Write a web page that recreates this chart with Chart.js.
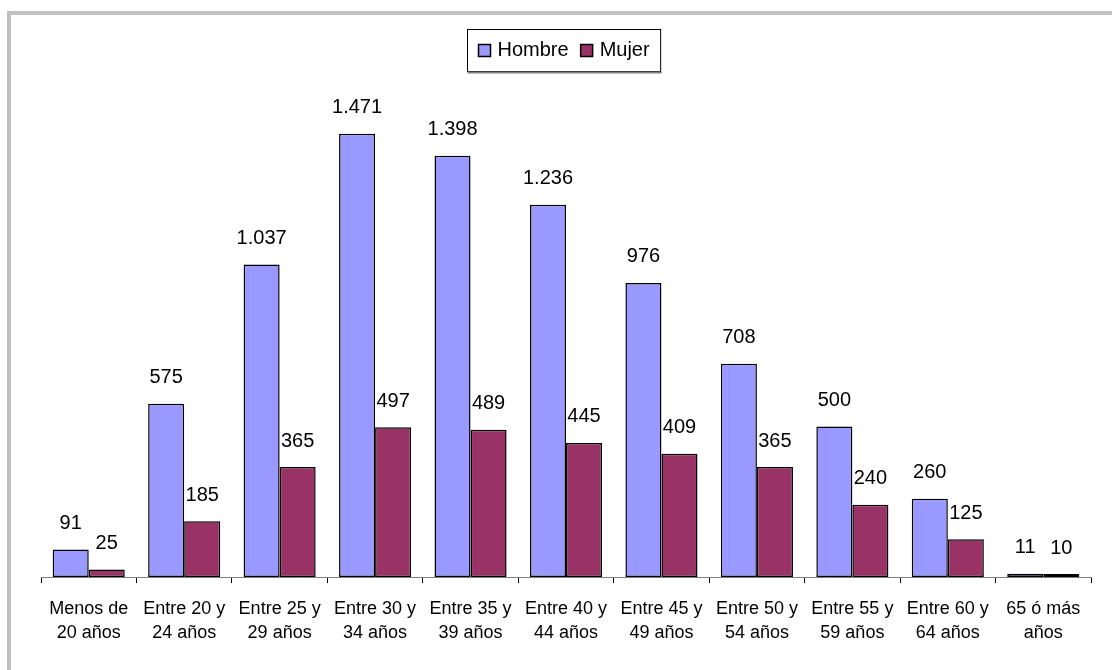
<!DOCTYPE html>
<html><head><meta charset="utf-8">
<script src="https://cdn.jsdelivr.net/npm/chart.js@4/dist/chart.umd.min.js"></script>
<style>
html,body{margin:0;padding:0;background:#fff;overflow:hidden}
#wrap{position:relative;width:1112px;height:670px}
#frame{position:absolute;left:7px;top:11px;width:1200px;height:800px;border:4px solid #c0c0c0;box-sizing:border-box}
canvas{position:absolute;left:0;top:0}
</style></head><body>
<div id="wrap"><div id="frame"></div><canvas id="c" width="1112" height="670"></canvas></div>
<script>
const categories = [
  ['Menos de','20 años'],
  ['Entre 20 y','24 años'],
  ['Entre 25 y','29 años'],
  ['Entre 30 y','34 años'],
  ['Entre 35 y','39 años'],
  ['Entre 40 y','44 años'],
  ['Entre 45 y','49 años'],
  ['Entre 50 y','54 años'],
  ['Entre 55 y','59 años'],
  ['Entre 60 y','64 años'],
  ['65 ó más','años']
];
const hombre = [91, 575, 1037, 1471, 1398, 1236, 976, 708, 500, 260, 11];
const mujer  = [25, 185, 365, 497, 489, 445, 409, 365, 240, 125, 10];
const seriesNames = ['Hombre', 'Mujer'];
const seriesColors = ['#9999FF', '#993366'];

const FONT = '"Liberation Sans", Arial, sans-serif';

function fmt(v){ return String(v).replace(/\B(?=(\d{3})+(?!\d))/g, '.'); }

const labelPlugin = {
  id: 'valueLabels',
  afterDatasetsDraw(chart){
    const ctx = chart.ctx;
    ctx.save();
    ctx.font = '20px ' + FONT;
    ctx.fillStyle = '#000';
    ctx.textAlign = 'center';
    ctx.textBaseline = 'middle';
    chart.data.datasets.forEach((ds, di) => {
      const meta = chart.getDatasetMeta(di);
      meta.data.forEach((el, i) => {
        ctx.fillText(fmt(ds.data[i]), el.x, el.y - 26);
      });
    });
    ctx.restore();
  }
};

const legendPlugin = {
  id: 'boxLegend',
  afterDraw(chart){
    const ctx = chart.ctx;
    ctx.save();
    ctx.font = '20px ' + FONT;
    const box = 12, gap = 7, spacing = 12, pad = 11;
    const ds = chart.data.datasets;
    let total = 0;
    const widths = ds.map(d => ctx.measureText(d.label).width);
    widths.forEach((w, i) => { total += box + gap + w + (i < widths.length - 1 ? spacing : 0); });
    const cx = (chart.chartArea.left + chart.chartArea.right) / 2 - 2;
    const bw = total + pad * 2;
    const left = Math.round(cx - bw / 2) + 0.5;
    const top = 29.5, h = 42;
    ctx.fillStyle = '#fff';
    ctx.fillRect(left, top, bw, h);
    ctx.strokeStyle = '#000';
    ctx.lineWidth = 1;
    ctx.strokeRect(left, top, bw, h);
    ctx.strokeStyle = '#808080';
    ctx.lineWidth = 2;
    ctx.beginPath(); ctx.moveTo(left, top + h + 1); ctx.lineTo(left + bw + 1, top + h + 1); ctx.stroke();
    let x = left + pad;
    const cy = top + h / 2;
    ds.forEach((d, i) => {
      ctx.fillStyle = d.backgroundColor;
      ctx.fillRect(x, cy - box / 2, box, box);
      ctx.strokeStyle = '#000';
      ctx.lineWidth = 1.5;
      ctx.strokeRect(x, cy - box / 2, box, box);
      ctx.fillStyle = '#000';
      ctx.textBaseline = 'middle';
      ctx.textAlign = 'left';
      ctx.fillText(d.label, x + box + gap, cy);
      x += box + gap + widths[i] + spacing;
    });
    ctx.restore();
  }
};

new Chart(document.getElementById('c'), {
  type: 'bar',
  data: {
    labels: categories,
    datasets: [
      { label: seriesNames[0], data: hombre, backgroundColor: seriesColors[0], borderColor: '#000', borderWidth: 1.5, borderSkipped: false },
      { label: seriesNames[1], data: mujer, backgroundColor: seriesColors[1], borderColor: '#000', borderWidth: 1.5, borderSkipped: false }
    ]
  },
  options: {
    responsive: false,
    devicePixelRatio: 1,
    animation: false,
    layout: { padding: { left: 41, right: 21, top: 95, bottom: 11 } },
    datasets: { bar: { categoryPercentage: 0.755, barPercentage: 1 } },
    plugins: { legend: { display: false }, tooltip: { enabled: false } },
    scales: {
      y: { display: false, min: 0, max: 1600 },
      x: {
        offset: true,
        grid: { offset: true, drawOnChartArea: false, drawTicks: true, tickLength: 6, color: '#000', lineWidth: 1 },
        border: { display: true, color: '#808080', width: 1 },
        ticks: { color: '#000', padding: 14, maxRotation: 0, autoSkip: false, font: { family: FONT, size: 18, lineHeight: 1.3333 } }
      }
    }
  },
  plugins: [labelPlugin, legendPlugin]
});
</script>
</body></html>
